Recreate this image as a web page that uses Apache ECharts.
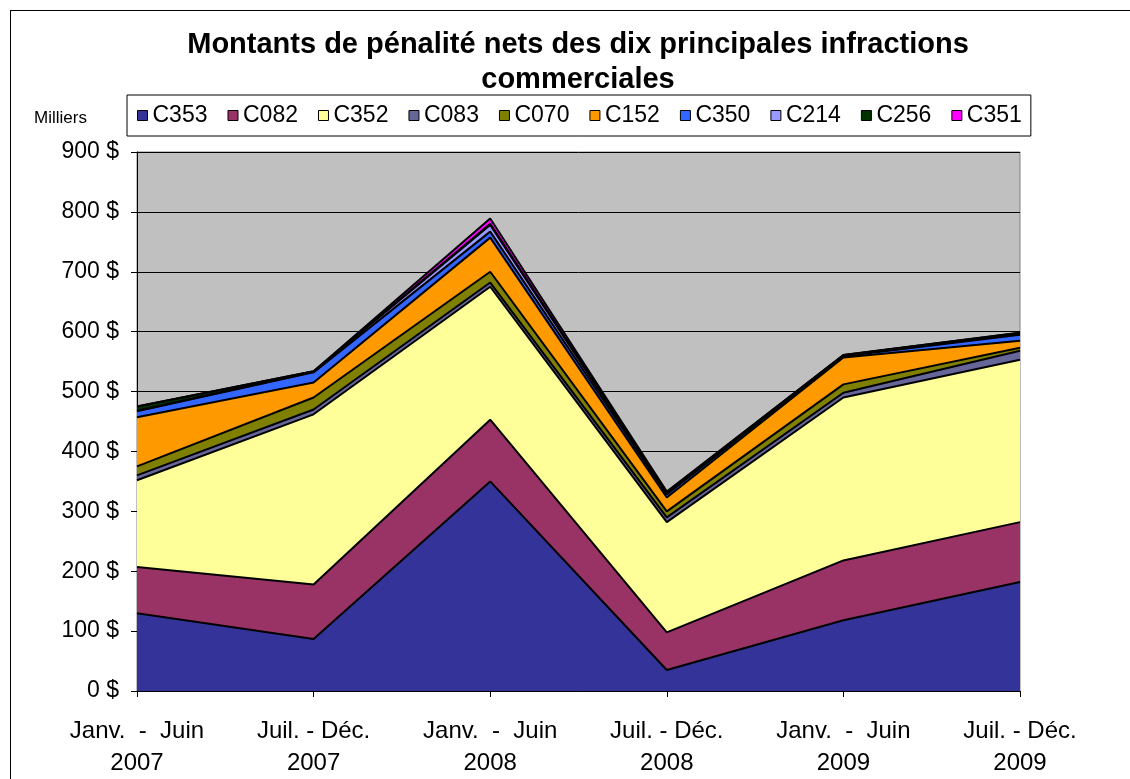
<!DOCTYPE html>
<html lang="fr">
<head>
<meta charset="UTF-8">
<title>Montants de pénalité</title>
<script src="https://cdn.jsdelivr.net/npm/echarts@6/dist/echarts.min.js"></script>
<style>
  body { margin: 0; background: #fff; }
  #frame { position: absolute; left: 10px; top: 10px; width: 1130px; height: 790px; border: 1px solid #000; box-sizing: border-box; }
  #main { position: absolute; left: 0; top: 0; width: 1130px; height: 779px; }
</style>
</head>
<body>
<div id="frame"></div>
<div id="main"></div>
<script type="text/javascript">
    // periodes (axe X)
    var periodes = ['Janv.  -  Juin\n2007', 'Juil. - Déc.\n2007', 'Janv.  -  Juin\n2008',
                    'Juil. - Déc.\n2008', 'Janv.  -  Juin\n2009', 'Juil. - Déc.\n2009'];

    // montants en milliers de $
    var C353 = [130, 87, 350, 35, 118, 182];
    var C082 = [77, 91, 103, 63, 100, 100];
    var C352 = [145, 284, 222, 184, 272, 271];
    var C083 = [8, 8, 7, 8, 8, 15];
    var C070 = [15, 20, 18, 10, 14, 5];
    var C152 = [82, 25, 57, 23, 45, 12];
    var C350 = [10, 17, 10, 5, 2, 10];
    var C214 = [1, 1, 11, 2, 1, 1];
    var C256 = [7, 1, 2, 2, 1, 2];
    var C351 = [0, 0, 9, 1, 0, 0];

    var noms = ['C353', 'C082', 'C352', 'C083', 'C070', 'C152', 'C350', 'C214', 'C256', 'C351'];
    var valeurs = [C353, C082, C352, C083, C070, C152, C350, C214, C256, C351];
    var couleurs = ['#333399', '#993366', '#FFFF99', '#666699', '#808000',
                    '#FF9900', '#3366FF', '#9999FF', '#003300', '#FF00FF'];

    var police = 'Liberation Sans, Arial, sans-serif';

    var series = [];
    for (var i = 0; i < noms.length; i++) {
        series.push({
            name: noms[i],
            type: 'line',
            stack: 'total',
            symbol: 'none',
            data: valeurs[i],
            itemStyle: { color: couleurs[i], borderColor: '#000', borderWidth: 1 },
            lineStyle: { color: '#000', width: 2 },
            areaStyle: { color: couleurs[i], opacity: 1 },
            z: 3
        });
    }

    var myChart = echarts.init(document.getElementById('main'));
    var option = {
        animation: false,
        textStyle: { fontFamily: police, color: '#000' },
        title: [
            {
                text: 'Montants de pénalité nets des dix principales infractions\ncommerciales',
                left: 573,
                textAlign: 'center',
                top: 22,
                textStyle: { fontSize: 29, fontWeight: 'bold', lineHeight: 35, fontFamily: police, color: '#000' }
            },
            {
                text: 'Milliers',
                left: 29,
                top: 105,
                textStyle: { fontSize: 17, fontWeight: 'normal', fontFamily: police, color: '#000' }
            }
        ],
        legend: {
            data: noms,
            left: 127,
            top: 95,
            padding: [9, 9, 9, 10],
            itemWidth: 10,
            itemHeight: 10,
            itemGap: 20,
            icon: 'rect',
            borderColor: '#000',
            borderWidth: 1,
            backgroundColor: '#fff',
            itemStyle: { borderColor: '#000', borderWidth: 1 },
            textStyle: { fontSize: 23, fontFamily: police, color: '#000' }
        },
        grid: {
            left: 137,
            right: 110,
            top: 152,
            bottom: 87,
            show: true,
            backgroundColor: '#C0C0C0',
            borderColor: '#808080',
            borderWidth: 1
        },
        xAxis: {
            type: 'category',
            boundaryGap: false,
            data: periodes,
            axisLine: { lineStyle: { color: '#000', width: 1 } },
            axisTick: { show: true, alignWithLabel: true, length: 6, lineStyle: { color: '#000' } },
            axisLabel: { fontSize: 24, lineHeight: 32, margin: 24, color: '#000', fontFamily: police },
            splitLine: { show: false },
            z: 4
        },
        yAxis: {
            type: 'value',
            min: 0,
            max: 900,
            interval: 100,
            axisLine: { show: true, lineStyle: { color: '#000', width: 1 } },
            axisTick: { show: true, length: 6, lineStyle: { color: '#000' } },
            axisLabel: {
                fontSize: 23, margin: 18, color: '#000', fontFamily: police,
                formatter: function (v) { return v + ' $'; }
            },
            splitLine: { show: true, lineStyle: { color: '#000', width: 1 } },
            z: 1
        },
        series: series
    };
    myChart.setOption(option);
</script>
</body>
</html>
